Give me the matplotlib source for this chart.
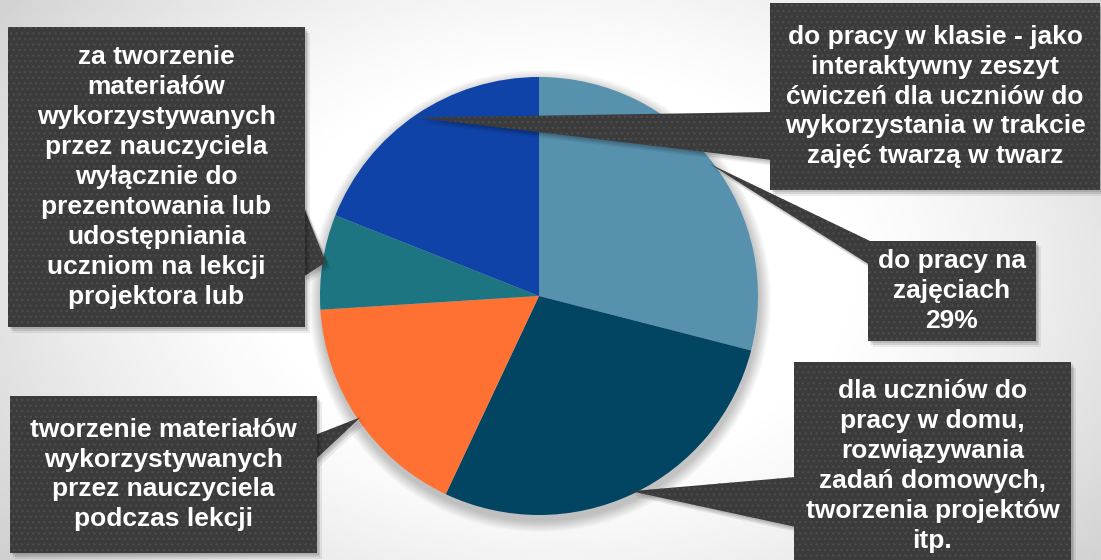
import numpy as np
import matplotlib
matplotlib.use("Agg")
import matplotlib.pyplot as plt
from matplotlib.patches import Rectangle, Polygon, Circle

# udziały (%) - zgodnie z ruchem wskazówek zegara od godziny 12
wartosci = [29, 28, 17, 7, 19]
kolory = ["#5891ae", "#014563", "#ff7033", "#1e7582", "#0f43a8"]
etykiety = [
    "do pracy na\nzajęciach\n29%",
    "dla uczniów do\npracy w domu,\nrozwiązywania\nzadań domowych,\ntworzenia projektów\nitp.",
    "tworzenie materiałów\nwykorzystywanych\nprzez nauczyciela\npodczas lekcji",
    "za tworzenie\nmateriałów\nwykorzystywanych\nprzez nauczyciela\nwyłącznie do\nprezentowania lub\nudostępniania\nuczniom na lekcji\nprojektora lub",
    "do pracy w klasie - jako\ninteraktywny zeszyt\nćwiczeń dla uczniów do\nwykorzystania w trakcie\nzajęć twarzą w twarz",
]

W, H = 1101, 560

# ramki etykiet w pikselach (x0, y0, x1, y1) liczone od góry obrazka
ramki = [
    (868, 241, 1036, 341),
    (794, 362, 1071, 575),
    (10, 396, 317, 553),
    (8, 27, 305, 327),
    (770, 3, 1100, 190),
]
# podstawa dzióbka: (x, y_gora, y_dol)
podstawy = [
    (870, 241, 265),
    (796, 477, 527),
    (315, 435, 460),
    (303, 205, 277),
    (772, 112, 160),
]


def py(y):
    return H - y


fig = plt.figure(figsize=(W / 100, H / 100), dpi=100)
ax = fig.add_axes([0, 0, 1, 1])

# tło - jasny gradient radialny
xx, yy = np.meshgrid(np.linspace(0, W, 400), np.linspace(0, H, 200))
r = np.hypot((xx - 560) / 620, (yy - 290) / 420)
szary = 1 - 0.21 * np.clip((r - 0.45) / 0.75, 0, 1) ** 1.3
ax.imshow(szary, extent=(0, W, H, 0), cmap="gray", vmin=0, vmax=1,
          aspect="auto", zorder=0, origin="upper")

srodek = (539, py(296))
promien = 219

# cień pod wykresem
for k in range(12):
    ax.add_patch(Circle((srodek[0] + 1, srodek[1] - 5), promien + 12 - k,
                        color="black", alpha=0.018, lw=0, zorder=1))

kliny, _ = ax.pie(wartosci, colors=kolory, startangle=90, counterclock=False,
                  center=srodek, radius=promien,
                  wedgeprops=dict(linewidth=0, zorder=2))


def z_cieniem(ksztalt, zorder):
    # miękki cień: kilka przesuniętych, półprzezroczystych kopii
    for dx, dy, a in [(2, -2, 0.10), (3, -4, 0.10), (5, -6, 0.07)]:
        if isinstance(ksztalt, Polygon):
            c = Polygon(np.asarray(ksztalt.get_xy()) + [dx, dy], closed=True,
                        color="black", alpha=a, lw=0, zorder=zorder - 0.5)
        else:
            c = Rectangle((ksztalt.get_x() + dx, ksztalt.get_y() + dy),
                          ksztalt.get_width(), ksztalt.get_height(),
                          color="black", alpha=a, lw=0, zorder=zorder - 0.5)
        ax.add_patch(c)
    ax.add_patch(ksztalt)


for klin, tekst, ramka, podst in zip(kliny, etykiety, ramki, podstawy):
    kat = np.deg2rad((klin.theta1 + klin.theta2) / 2)
    tip = (srodek[0] + 0.985 * promien * np.cos(kat),
           srodek[1] + 0.985 * promien * np.sin(kat))
    x0, y0, x1, y1 = ramka
    bx, bt, bb = podst
    dziob = Polygon([(bx, py(bt)), tip, (bx, py(bb))], closed=True,
                    facecolor="#3b3b3b", edgecolor="#4c4c4c", lw=0,
                    hatch="...", zorder=5)
    z_cieniem(dziob, 5)
    prost = Rectangle((x0, py(y1)), x1 - x0, y1 - y0,
                      facecolor="#3b3b3b", edgecolor="#4c4c4c", lw=0,
                      hatch="...", zorder=6)
    z_cieniem(prost, 6)
    ax.text((x0 + x1) / 2, py((y0 + min(y1, H) + (y1 > H) * 10) / 2), tekst,
            ha="center", va="center", multialignment="center",
            color="white", fontsize=19, fontweight="bold",
            family="Liberation Sans", linespacing=1.31, zorder=7)

ax.set_xlim(0, W)
ax.set_ylim(0, H)
ax.set_aspect("auto")
ax.axis("off")

fig.savefig("out.png", dpi=100)
